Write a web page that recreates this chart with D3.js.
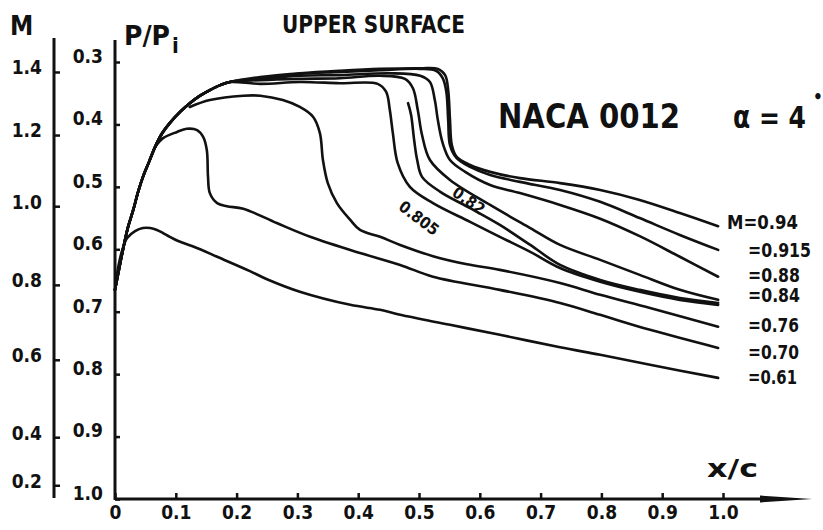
<!DOCTYPE html>
<html><head><meta charset="utf-8">
<script src="https://cdn.jsdelivr.net/npm/d3@7"></script>
<style>
body{margin:0;background:#fff;}
svg{display:block;background:#fff;}
text{font-family:"Liberation Sans Narrow","DejaVu Sans Condensed","Roboto Condensed",sans-serif;font-weight:bold;fill:#111;}
</style></head><body>
<svg id="chart" width="823" height="530"></svg>
<script>
// ---- tick values / labels ----
const xTicks = [0,0.1,0.2,0.3,0.4,0.5,0.6,0.7,0.8,0.9,1.0];
const xTickLabels = ["0","0.1","0.2","0.3","0.4","0.5","0.6","0.7","0.8","0.9","1.0"];
const pTicks = [0.3,0.4,0.5,0.6,0.7,0.8,0.9,1.0];
const pTickLabels = ["0.3","0.4","0.5","0.6","0.7","0.8","0.9","1.0"];
const machTickLabels = ["1.4","1.2","1.0","0.8","0.6","0.4","0.2"];
const machTickP = [0.316,0.417,0.531,0.657,0.777,0.901,0.978];

// ---- series (x/c , P/Pi) ----
const leadingEdge = [[0,0.665],[0.007,0.630],[0.013,0.601],[0.021,0.566],[0.030,0.537],[0.038,0.508],[0.046,0.484],[0.056,0.460],[0.066,0.436],[0.077,0.415],[0.090,0.398],[0.107,0.380],[0.123,0.366],[0.140,0.354],[0.156,0.345],[0.173,0.337],[0.189,0.332]];
const m061 = [[0,0.665],[0.005,0.630],[0.012,0.601],[0.020,0.582],[0.033,0.571],[0.046,0.566],[0.058,0.566],[0.069,0.569],[0.079,0.574],[0.090,0.580],[0.102,0.586],[0.140,0.600],[0.168,0.612],[0.222,0.635],[0.250,0.648],[0.304,0.668],[0.387,0.689],[0.436,0.697],[0.469,0.705],[0.551,0.721],[0.633,0.737],[0.732,0.757],[0.798,0.769],[0.880,0.785],[0.992,0.806]];
const m070 = [[0.066,0.436],[0.079,0.422],[0.102,0.412],[0.118,0.407],[0.135,0.409],[0.145,0.420],[0.151,0.441],[0.153,0.484],[0.156,0.510],[0.168,0.526],[0.184,0.531],[0.211,0.535],[0.266,0.558],[0.321,0.580],[0.403,0.606],[0.469,0.625],[0.523,0.644],[0.633,0.665],[0.732,0.686],[0.798,0.705],[0.880,0.729],[0.992,0.758]];
const m076 = [[0.123,0.372],[0.156,0.361],[0.211,0.354],[0.239,0.354],[0.276,0.361],[0.304,0.372],[0.326,0.388],[0.337,0.414],[0.342,0.457],[0.350,0.494],[0.365,0.526],[0.387,0.553],[0.403,0.569],[0.436,0.580],[0.469,0.593],[0.523,0.611],[0.579,0.624],[0.633,0.633],[0.732,0.654],[0.798,0.673],[0.880,0.694],[0.992,0.724]];
const m0805 = [[0.239,0.335],[0.304,0.332],[0.370,0.334],[0.432,0.335],[0.446,0.348],[0.452,0.377],[0.457,0.414],[0.465,0.462],[0.485,0.500],[0.523,0.526],[0.584,0.556],[0.633,0.580],[0.683,0.604],[0.732,0.630],[0.798,0.652],[0.863,0.668],[0.929,0.681],[0.992,0.689]];
const m082 = [[0.482,0.366],[0.487,0.385],[0.492,0.425],[0.497,0.457],[0.505,0.484],[0.535,0.508],[0.584,0.534],[0.633,0.561],[0.683,0.593],[0.732,0.625],[0.798,0.649],[0.863,0.665],[0.929,0.678],[0.992,0.686]];
const m084 = [[0.239,0.329],[0.304,0.327],[0.370,0.326],[0.436,0.322],[0.477,0.327],[0.490,0.342],[0.498,0.377],[0.505,0.417],[0.518,0.457],[0.551,0.489],[0.617,0.529],[0.683,0.566],[0.732,0.593],[0.798,0.617],[0.863,0.641],[0.929,0.665],[0.992,0.681]];
const m088 = [[0.239,0.327],[0.304,0.322],[0.370,0.321],[0.452,0.318],[0.502,0.322],[0.518,0.332],[0.526,0.361],[0.531,0.393],[0.539,0.430],[0.551,0.457],[0.576,0.476],[0.617,0.497],[0.666,0.510],[0.732,0.529],[0.798,0.551],[0.863,0.579],[0.929,0.612],[0.992,0.644]];
const m0915 = [[0.239,0.326],[0.304,0.319],[0.370,0.316],[0.436,0.313],[0.502,0.311],[0.528,0.314],[0.539,0.326],[0.545,0.348],[0.548,0.393],[0.551,0.433],[0.562,0.454],[0.584,0.468],[0.617,0.481],[0.666,0.492],[0.732,0.505],[0.798,0.524],[0.863,0.550],[0.929,0.577],[0.992,0.601]];
const m094 = [[0.239,0.324],[0.304,0.318],[0.370,0.314],[0.436,0.311],[0.502,0.310],[0.531,0.311],[0.543,0.321],[0.548,0.345],[0.551,0.393],[0.554,0.433],[0.562,0.452],[0.584,0.465],[0.617,0.476],[0.666,0.486],[0.732,0.494],[0.798,0.505],[0.863,0.521],[0.929,0.542],[0.992,0.563]];

const machNames = ["0.61","0.70","0.76","0.805","0.82","0.84","0.88","0.915","0.94"];
const seriesPoints = [m061, m070, m076, leadingEdge.concat(m0805), m082, leadingEdge.concat(m084), leadingEdge.concat(m088), leadingEdge.concat(m0915), leadingEdge.concat(m094)];
const endLabels = ["=0.61","=0.70","=0.76",null,null,"=0.84","=0.88","=0.915","M=0.94"];

// ---- layout ----
const svg = d3.select("#chart");
const FONT = '"Liberation Sans Narrow","DejaVu Sans Condensed","Roboto Condensed",sans-serif';
const xS = d3.scaleLinear().domain([0,1]).range([115,723]);
const pS = d3.scaleLinear().domain([0.3,1.0]).range([62,499]);
const ink = "#111";

// axis lines
svg.append("line").attr("x1",54).attr("x2",54).attr("y1",38).attr("y2",498).attr("stroke",ink).attr("stroke-width",3);
svg.append("line").attr("x1",115).attr("x2",115).attr("y1",40).attr("y2",500).attr("stroke",ink).attr("stroke-width",3);
svg.append("line").attr("x1",115).attr("x2",770).attr("y1",499).attr("y2",499).attr("stroke",ink).attr("stroke-width",3);
svg.append("path").attr("d","M760,495.5 L812,499 L760,502.5 Z").attr("fill",ink);

function styleAxis(g){
  g.select(".domain").remove();
  g.attr("font-size",19).attr("font-family",FONT).attr("font-weight","bold").attr("color",ink);
  g.selectAll(".tick line").attr("stroke-width",2.5);
}
// x axis
svg.append("g").attr("transform","translate(0,499)")
  .call(d3.axisBottom(xS).tickValues(xTicks).tickFormat((d,i)=>xTickLabels[i]).tickSize(-6).tickPadding(7))
  .call(styleAxis);
// P/Pi axis
svg.append("g").attr("transform","translate(115,0)")
  .call(d3.axisLeft(pS).tickValues(pTicks).tickFormat((d,i)=>pTickLabels[i]).tickSize(-5).tickPadding(12))
  .call(styleAxis)
  .call(g=>g.selectAll("text").attr("dy","0.02em"));
// Mach axis
svg.append("g").attr("transform","translate(54,0)")
  .call(d3.axisLeft(pS).tickValues(machTickP).tickFormat((d,i)=>machTickLabels[i]).tickSize(-6).tickPadding(12))
  .call(styleAxis)
  .call(g=>g.selectAll("text").attr("dy","0.1em"));

// curves
const line = d3.line().x(d=>xS(d[0])).y(d=>pS(d[1])).curve(d3.curveCatmullRom.alpha(0.5));
svg.append("g").selectAll("path").data(seriesPoints).join("path")
  .attr("d",line).attr("fill","none").attr("stroke",ink).attr("stroke-width",2.6)
  .attr("stroke-linecap","round").attr("stroke-linejoin","round");

// end labels
const labelNudge = [-1,4,-2,0,0,-5,-2,0,-4];
const labelWidth = [49,51,51,0,0,52,52,63,71];
seriesPoints.forEach((pts,i)=>{
  if(!endLabels[i]) return;
  const last = pts[pts.length-1];
  const x0 = i===8 ? xS(1.0)+4 : xS(1.0)+25;
  svg.append("text").attr("x",x0).attr("y",pS(last[1])+labelNudge[i]).attr("dy","0.36em")
    .attr("font-size",19).attr("textLength",labelWidth[i]).attr("lengthAdjust","spacingAndGlyphs")
    .text(endLabels[i]);
});
// inline labels
svg.append("text").attr("transform",`translate(${xS(0.50)},${pS(0.550)}) rotate(37)`)
  .attr("text-anchor","middle").attr("dy","0.35em").attr("font-size",16).attr("font-weight","normal")
  .text(machNames[3]);
svg.append("text").attr("transform",`translate(${xS(0.582)},${pS(0.522)}) rotate(35)`)
  .attr("text-anchor","middle").attr("dy","0.35em").attr("font-size",16).attr("font-weight","normal")
  .text(machNames[4]);

// titles
svg.append("text").attr("x",10).attr("y",35).attr("font-size",26).text("M");
svg.append("text").attr("x",124).attr("y",45).attr("font-size",27).attr("textLength",46).attr("lengthAdjust","spacingAndGlyphs").text("P/P");
svg.append("text").attr("x",172).attr("y",53).attr("font-size",22).text("i");
svg.append("text").attr("x",282).attr("y",33).attr("font-size",24).attr("textLength",183).attr("lengthAdjust","spacingAndGlyphs").text("UPPER  SURFACE");
svg.append("text").attr("x",498).attr("y",128).attr("font-size",34).attr("textLength",182).attr("lengthAdjust","spacingAndGlyphs").text("NACA  0012");
svg.append("text").attr("x",733).attr("y",128).attr("font-size",31).attr("textLength",73).attr("lengthAdjust","spacingAndGlyphs").text("α = 4");
svg.append("text").attr("x",813).attr("y",103).attr("font-size",17).text("•");
svg.append("text").attr("x",707).attr("y",477).attr("font-size",25).attr("textLength",51).attr("lengthAdjust","spacingAndGlyphs").text("x/c");
</script>
</body></html>
